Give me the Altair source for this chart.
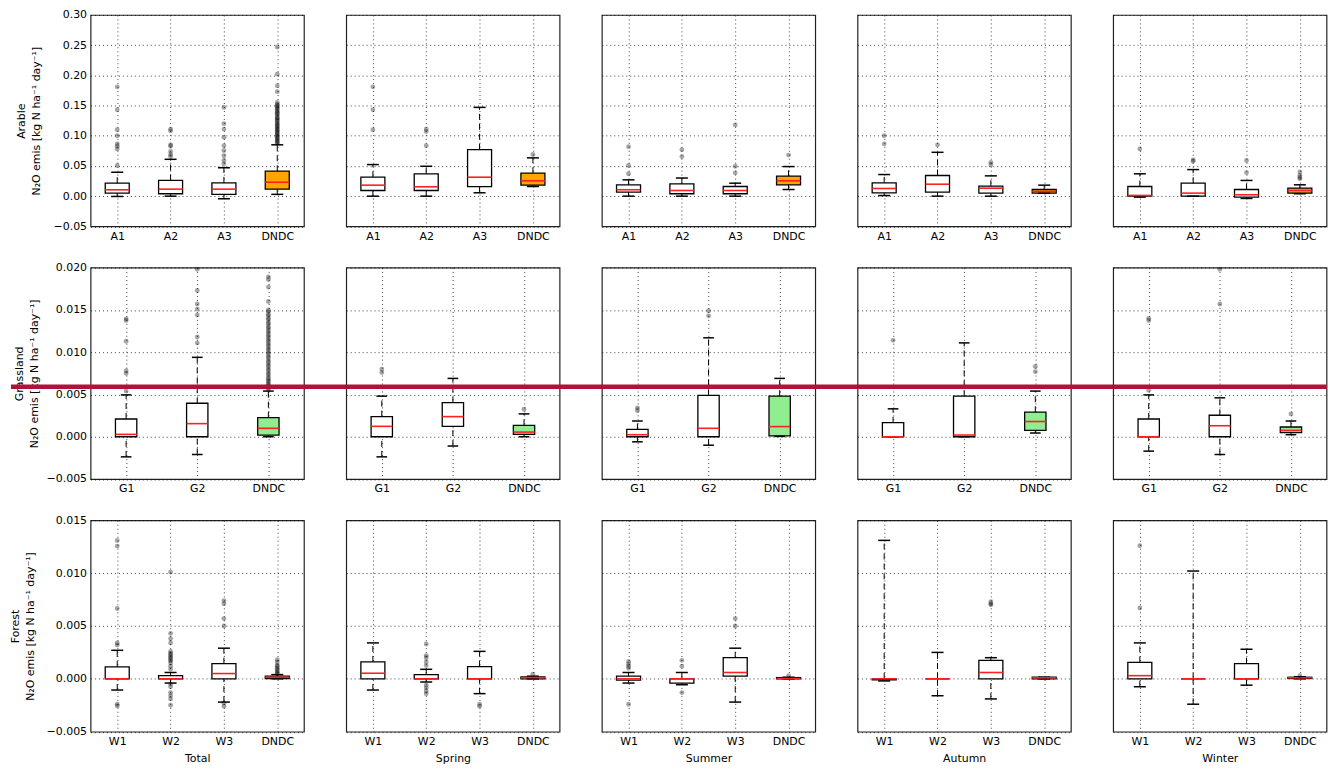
import json
import altair as alt
import pandas as pd

SEASONS = ["Total", "Spring", "Summer", "Autumn", "Winter"]
ARABLE_CATS = ["A1", "A2", "A3", "DNDC"]
GRASS_CATS = ["G1", "G2", "DNDC"]
FOREST_CATS = ["W1", "W2", "W3", "DNDC"]

ARABLE_TICKS = [-0.05, 0.0, 0.05, 0.10, 0.15, 0.20, 0.25, 0.30]
GRASS_TICKS = [-0.005, 0.0, 0.005, 0.010, 0.015, 0.020]
FOREST_TICKS = [-0.005, 0.0, 0.005, 0.010, 0.015]

UNIT_LINE = "N\u2082O emis [kg N ha\u207b\u00b9 day\u207b\u00b9]"
RED_LINE_Y = 0.0059  # annotation line across the Grassland row

# Box stats per category: [lower whisker, q1, median, q3, upper whisker]
arable_total = [[-0.0005, 0.005, 0.0105, 0.0215, 0.0396],
                [0.0, 0.004, 0.0116, 0.026, 0.061],
                [-0.0043, 0.003, 0.0116, 0.022, 0.047],
                [0.003, 0.0116, 0.0231, 0.0413, 0.085]]
arable_total_out = [[0.181, 0.143, 0.110, 0.100, 0.0865, 0.0826, 0.078, 0.0507],
                    [0.111, 0.108, 0.085, 0.0826, 0.074, 0.069, 0.0655],
                    [0.147, 0.120, 0.111, 0.0974, 0.0837, 0.0755, 0.067, 0.059, 0.0535],
                    [0.247, 0.202, 0.183, 0.173, 0.155, 0.152, 0.150, 0.148, 0.146, 0.144,
                     0.141, 0.139, 0.137, 0.135, 0.132, 0.130, 0.128, 0.126, 0.124, 0.121,
                     0.119, 0.117, 0.115, 0.113, 0.111, 0.109, 0.107, 0.105, 0.103, 0.101,
                     0.099, 0.097, 0.095, 0.093, 0.091, 0.089, 0.087]]
arable_spring = [[0.0, 0.0094, 0.0182, 0.0314, 0.0523],
                 [0.0, 0.0094, 0.0155, 0.037, 0.0495],
                 [0.0056, 0.0157, 0.0314, 0.077, 0.147],
                 [0.016, 0.0182, 0.0254, 0.038, 0.0634]]
arable_spring_out = [[0.181, 0.143, 0.110], [0.111, 0.107, 0.0837], [], [0.069]]
arable_summer = [[0.0, 0.0066, 0.0106, 0.0188, 0.027],
                 [0.0, 0.004, 0.0094, 0.0204, 0.030],
                 [0.0, 0.004, 0.0094, 0.016, 0.0215],
                 [0.011, 0.0188, 0.0254, 0.033, 0.049]]
arable_summer_out = [[0.082, 0.0507, 0.037], [0.077, 0.0655], [0.118, 0.0495, 0.0386], [0.068]]
arable_autumn = [[0.001, 0.0056, 0.0127, 0.022, 0.0358],
                 [0.0, 0.0066, 0.0198, 0.0342, 0.0726],
                 [0.0, 0.005, 0.0132, 0.0165, 0.0336],
                 [0.005, 0.005, 0.0078, 0.011, 0.0182]]
arable_autumn_out = [[0.100, 0.0865], [0.085], [0.056, 0.052], []]
arable_winter = [[-0.0016, 0.0, 0.0012, 0.016, 0.037],
                 [0.0, 0.0, 0.005, 0.0215, 0.044],
                 [-0.0038, -0.0016, 0.0023, 0.011, 0.026],
                 [0.004, 0.005, 0.0094, 0.0132, 0.0188]]
arable_winter_out = [[0.078], [0.060, 0.0578], [0.059, 0.039], [0.040, 0.0342, 0.031, 0.0287]]

grass_total = [[-0.00238, 0.0, 0.00028, 0.0021, 0.00495],
               [-0.0021, 0.0, 0.00155, 0.00396, 0.00939],
               [0.0, 0.0002, 0.001, 0.00226, 0.0054]]
grass_total_out = [[0.01394, 0.01375, 0.0113, 0.0078, 0.0075, 0.0054],
                   [0.0198, 0.0173, 0.0157, 0.0151, 0.0144, 0.0118, 0.0111],
                   [0.0189, 0.0186, 0.0177, 0.0160, 0.0150, 0.0148, 0.0145, 0.0143, 0.0140,
                    0.0138, 0.0135, 0.0133, 0.0130, 0.0128, 0.0125, 0.0123, 0.0120, 0.0118,
                    0.0115, 0.0113, 0.0110, 0.0108, 0.0105, 0.0103, 0.0100, 0.0098, 0.0095,
                    0.0093, 0.0090, 0.0088, 0.0085, 0.0083, 0.0080, 0.0078, 0.0075, 0.0073,
                    0.0070, 0.0068, 0.0066, 0.0064, 0.0062, 0.0060, 0.0058, 0.0056]]
grass_spring = [[-0.00238, 0.0, 0.00123, 0.00238, 0.0048],
                [-0.0011, 0.00123, 0.00238, 0.00404, 0.0069],
                [0.0, 0.00028, 0.00055, 0.00135, 0.0027]]
grass_spring_out = [[0.0080, 0.0076], [], [0.00325]]
grass_summer = [[-0.0006, 0.0, 0.00024, 0.00087, 0.00186],
                [-0.001, 0.0, 0.001, 0.0049, 0.0117],
                [0.00004, 0.0001, 0.0012, 0.0048, 0.0069]]
grass_summer_out = [[0.0034, 0.0031], [0.0149, 0.0143], []]
grass_autumn = [[0.0, 0.0, 0.0, 0.00166, 0.0033],
                [0.0, 0.0, 0.0002, 0.0048, 0.0111],
                [0.00044, 0.00075, 0.0018, 0.0029, 0.0054]]
grass_autumn_out = [[0.0114], [], [0.0083, 0.0077]]
grass_winter = [[-0.0017, 0.0, 0.0, 0.0021, 0.00495],
                [-0.0021, 0.0, 0.0013, 0.00254, 0.0046],
                [0.00024, 0.00048, 0.00075, 0.00115, 0.00186]]
grass_winter_out = [[0.0140, 0.01375, 0.0055], [0.0198, 0.0157], [0.0027]]

forest_total = [[-0.00106, 0.0, 0.0, 0.00113, 0.0027],
                [-0.0004, 0.0, 0.0, 0.0003, 0.0006],
                [-0.0022, 0.0, 0.0005, 0.00144, 0.0029],
                [0.0, 0.00003, 0.00015, 0.00025, 0.0004]]
forest_total_out = [[0.0131, 0.01256, 0.00666, 0.0034, 0.0032, -0.0024, -0.00256],
                    [0.0101, 0.0043, 0.0038, 0.0034, 0.0026, 0.0024, 0.0023, 0.0021, 0.0020,
                     0.0018, 0.0017, 0.0015, 0.0012, 0.0009, -0.0005, -0.00075, -0.0013,
                     -0.0016, -0.0019, -0.0025],
                    [0.0074, 0.0071, 0.0057, 0.0050, -0.0023, -0.0026],
                    [0.0018, 0.0016, 0.0013, 0.0012, 0.0010, 0.0009, 0.0007, 0.0006, 0.0005]]
forest_spring = [[-0.00106, 0.0, 0.00053, 0.0016, 0.0034],
                 [-0.0003, 0.0, 0.0, 0.0004, 0.0009],
                 [-0.0014, 0.0, 0.0, 0.00116, 0.0026],
                 [0.0, 0.0, 0.00012, 0.00019, 0.00025]]
forest_spring_out = [[], [0.0033, 0.0022, 0.0020, 0.0016, 0.00125, -0.0006, -0.00085, -0.00115, -0.0014],
                     [-0.0024, -0.0026], [0.00044]]
forest_summer = [[-0.0004, -0.00012, 0.0, 0.00025, 0.0006],
                 [-0.00056, -0.0004, 0.0, 0.0, 0.0006],
                 [-0.0022, 0.00025, 0.0006, 0.002, 0.0029],
                 [0.0, 0.0, 0.00003, 0.00012, 0.00015]]
forest_summer_out = [[0.00165, 0.0014, 0.0012, 0.0010, -0.0024], [0.00175, 0.0012, -0.0013],
                     [0.0057, 0.0050], [0.0003]]
forest_autumn = [[-0.0002, -0.0001, 0.0, 0.0, 0.0131],
                 [-0.0016, 0.0, 0.0, 0.0, 0.0025],
                 [-0.0019, 0.0, 0.0006, 0.00175, 0.002],
                 [0.0, 0.0, 0.0001, 0.00015, 0.00015]]
forest_autumn_out = [[], [], [0.0073, 0.0071, 0.0070], []]
forest_winter = [[-0.00075, 0.0, 0.0003, 0.00156, 0.0034],
                 [-0.0024, 0.0, 0.0, 0.0, 0.0102],
                 [-0.0006, 0.0, 0.0, 0.00144, 0.0028],
                 [0.0, 0.00003, 0.0001, 0.00015, 0.0002]]
forest_winter_out = [[0.0126, 0.0067], [], [], [0.0003]]

ROWS = [
    dict(name="Arable", cats=ARABLE_CATS, domain=[-0.05, 0.30], ticks=ARABLE_TICKS, fmt=".2f",
         fill="#FFA500", tpad=5,
         panels=[(arable_total, arable_total_out), (arable_spring, arable_spring_out),
                 (arable_summer, arable_summer_out), (arable_autumn, arable_autumn_out),
                 (arable_winter, arable_winter_out)]),
    dict(name="Grassland", cats=GRASS_CATS, domain=[-0.005, 0.020], ticks=GRASS_TICKS, fmt=".3f",
         fill="#90EE90", tpad=7,
         panels=[(grass_total, grass_total_out), (grass_spring, grass_spring_out),
                 (grass_summer, grass_summer_out), (grass_autumn, grass_autumn_out),
                 (grass_winter, grass_winter_out)]),
    dict(name="Forest", cats=FOREST_CATS, domain=[-0.005, 0.015], ticks=FOREST_TICKS, fmt=".3f",
         fill="white", tpad=11,
         panels=[(forest_total, forest_total_out), (forest_spring, forest_spring_out),
                 (forest_summer, forest_summer_out), (forest_autumn, forest_autumn_out),
                 (forest_winter, forest_winter_out)]),
]

W, H = 214.5, 212.5
HSPACE = 42
VSPACE = 41
GRID = dict(grid=True, gridDash=[1, 3], gridColor="#000000", gridOpacity=0.75, gridWidth=1)


def panel(row, col, last_row, red_line):
    stats, outs = row["panels"][col]
    cats = row["cats"]
    n = len(cats)
    bw = 0.45 if n == 4 else 0.3
    recs = []
    for k, (cat, s) in enumerate(zip(cats, stats)):
        p = k + 1
        recs.append(dict(pos=p, lo=s[0], q1=s[1], med=s[2], q3=s[3], hi=s[4],
                         left=p - bw / 2, right=p + bw / 2, cl=p - bw / 4, cr=p + bw / 4,
                         fill=row["fill"] if cat == "DNDC" else "white"))
    df = pd.DataFrame(recs)
    fl = pd.DataFrame([dict(pos=k + 1, v=v) for k, vals in enumerate(outs) for v in vals])

    xs = alt.Scale(domain=[0.5, n + 0.5], nice=False, zero=False)
    ys = alt.Scale(domain=row["domain"], nice=False, zero=False)

    xaxis = alt.Axis(values=list(range(1, n + 1)), labelExpr=json.dumps(cats) + "[datum.value - 1]",
                     ticks=False, domain=False, labelPadding=4, titlePadding=6, **GRID)
    if col == 0:
        yaxis = alt.Axis(values=row["ticks"], format=row["fmt"], ticks=False, domain=False,
                         labelPadding=4, minExtent=44, maxExtent=44, titlePadding=row["tpad"],
                         titleLineHeight=15.5, **GRID)
        ytitle = [row["name"], UNIT_LINE]
    else:
        yaxis = alt.Axis(values=row["ticks"], labels=False, ticks=False, domain=False, **GRID)
        ytitle = None
    xtitle = SEASONS[col] if last_row else None

    def X(f):
        return alt.X(f, scale=xs, axis=xaxis, title=xtitle)

    def Y(f):
        return alt.Y(f, scale=ys, axis=yaxis, title=ytitle)

    box = alt.Chart(df).mark_rect(stroke="black", strokeWidth=1.3).encode(
        x=X("left:Q"), x2="right:Q", y=Y("q1:Q"), y2="q3:Q",
        fill=alt.Fill("fill:N", scale=None),
    )
    wlo = alt.Chart(df).mark_rule(color="black", strokeWidth=1, strokeDash=[6, 4]).encode(
        x=X("pos:Q"), y=Y("lo:Q"), y2="q1:Q")
    whi = alt.Chart(df).mark_rule(color="black", strokeWidth=1, strokeDash=[6, 4]).encode(
        x=X("pos:Q"), y=Y("q3:Q"), y2="hi:Q")
    clo = alt.Chart(df).mark_rule(color="black", strokeWidth=1.5).encode(
        x=X("cl:Q"), x2="cr:Q", y=Y("lo:Q"))
    chi = alt.Chart(df).mark_rule(color="black", strokeWidth=1.5).encode(
        x=X("cl:Q"), x2="cr:Q", y=Y("hi:Q"))
    med = alt.Chart(df).mark_rule(color="#ff2020", strokeWidth=1.6).encode(
        x=X("left:Q"), x2="right:Q", y=Y("med:Q"))
    layers = [box, wlo, whi, clo, chi, med]
    if len(fl):
        pts = alt.Chart(fl).mark_circle(color="#000000", opacity=0.35, size=24).encode(
            x=X("pos:Q"), y=Y("v:Q"))
        layers.append(pts)
    if red_line:
        x0 = -80 if col == 0 else 0
        x1 = W if col == 4 else W + HSPACE + 1
        rl = alt.Chart(pd.DataFrame({"y": [RED_LINE_Y]})).mark_rule(
            color="#b3103a", strokeWidth=4.5).encode(
            y=Y("y:Q"), x=alt.value(x0), x2=alt.value(x1))
        layers.append(rl)
    return alt.layer(*layers).properties(width=W, height=H)


panels = []
for ri, row in enumerate(ROWS):
    for c in range(5):
        panels.append(panel(row, c, ri == 2, ri == 1))

chart = alt.concat(*panels, columns=5, spacing={"row": VSPACE, "column": HSPACE}, bounds="flush").properties(
    padding={"left": 0, "top": -2, "right": 0, "bottom": 0}
).configure_view(stroke="#222222", strokeWidth=1.2).configure_axis(
    labelFont="DejaVu Sans", titleFont="DejaVu Sans", labelFontSize=11, titleFontSize=11,
    labelColor="#000000", titleColor="#000000", titleFontWeight="normal"
)

chart.save("out.html", embed_options={"renderer": "svg", "actions": False})
